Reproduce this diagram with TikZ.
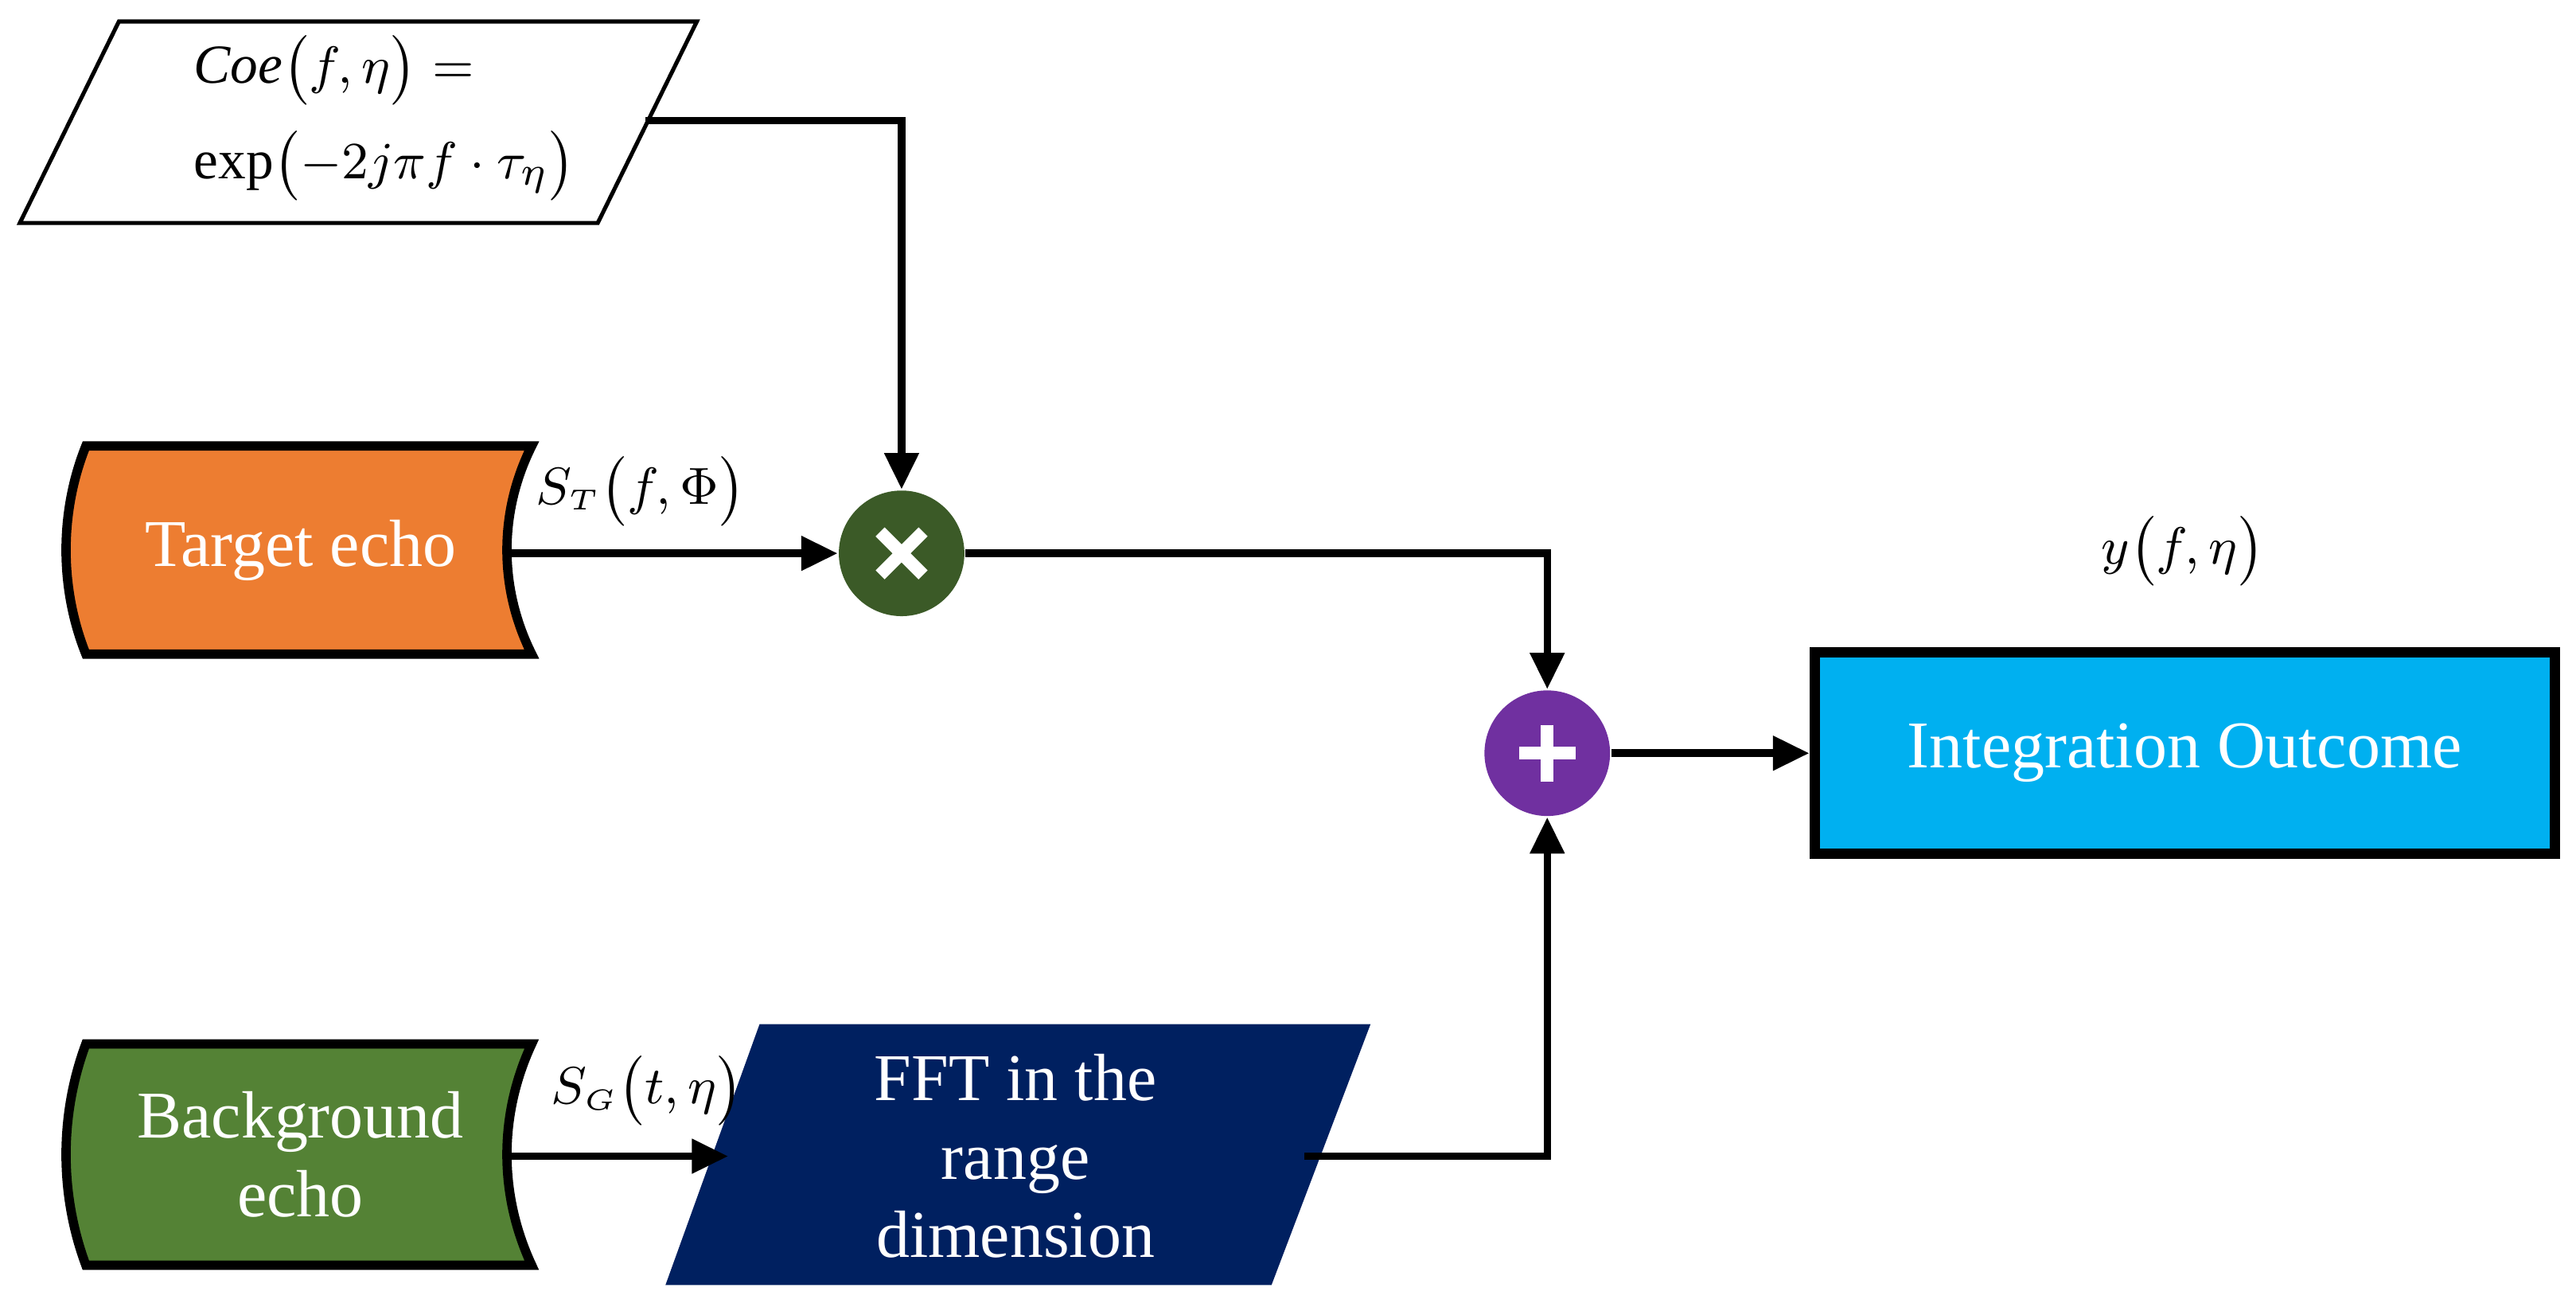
\documentclass[tikz,border=0pt]{standalone}
\usepackage{fontspec}
\setmainfont{Liberation Serif}
\usetikzlibrary{arrows.meta}
\definecolor{corange}{HTML}{ED7D31}
\definecolor{cgreen}{HTML}{548235}
\definecolor{cdkgreen}{HTML}{3B5A27}
\definecolor{cpurple}{HTML}{7030A0}
\definecolor{cnavy}{HTML}{002060}
\definecolor{ccyan}{HTML}{00B0F0}
\begin{document}
\begin{tikzpicture}[x=0.01cm,y=-0.01cm,
  conn/.style={line width=1.3pt,-{Triangle[length=0.22cm,width=0.2cm]}},
  drum/.style={line width=1.6pt,draw=black},
  lbl/.style={text=white,font=\fontsize{11.5}{13.5}\selectfont,align=center},
  math/.style={font=\fontsize{9.5}{11}\selectfont},
  sym/.style={white,line width=2.2pt},
  op/.style={circle,minimum size=0.76cm,inner sep=0pt}]
\useasboundingbox (0,0) rectangle (1560,796);
% Coe parallelogram
\draw[line width=0.7pt,fill=white] (72,13) -- (422,13) -- (362,135) -- (12,135) -- cycle;
\node[math,anchor=west] (coe1) at (105,42) {$\mathit{Coe}\bigl(f,\eta\bigr)=$};
\node[math,anchor=west] (coe2) at (105,100) {$\exp\bigl(-2j\pi f\cdot\tau_\eta\bigr)$};
\coordinate (coeout) at (391,73);
% Target echo
\draw[drum,fill=corange] (322,270) -- (52,270) .. controls (36,310) and (36,356) .. (52,396) -- (322,396) .. controls (302,356) and (302,310) .. cycle;
\node[lbl] (target) at (182,333) {Target echo};
\coordinate (targetout) at (308,335);
% Background echo
\draw[drum,fill=cgreen] (322,632) -- (52,632) .. controls (36,675) and (36,723) .. (52,766) -- (322,766) .. controls (302,723) and (302,675) .. cycle;
\node[lbl] (bg) at (182,699) {Background\\echo};
\coordinate (bgout) at (308,700);
% FFT parallelogram
\fill[cnavy] (460,620) -- (830,620) -- (770,778) -- (403,778) -- cycle;
\node[lbl] (fft) at (615,700) {FFT in the\\range\\dimension};
\coordinate (fftin) at (441,700);
\coordinate (fftout) at (790,700);
% operators
\node[op,fill=cdkgreen] (mul) at (546,335) {};
\draw[sym] (mul.center) ++(-13,-13) -- ++(26,26) (mul.center) ++(13,-13) -- ++(-26,26);
\node[op,fill=cpurple] (add) at (937,456) {};
\draw[sym] (add.center) ++(-17,0) -- ++(34,0) (add.center) ++(0,-17) -- ++(0,34);
% output box
\node[draw=black,line width=1.8pt,fill=ccyan,minimum width=4.48cm,minimum height=1.22cm,lbl] (out) at (1323,456) {Integration Outcome};
% connectors
\draw[conn] (coeout) -| (mul.north);
\draw[conn] (targetout) -- (mul.west);
\draw[conn] (mul.east) -| (add.north);
\draw[conn] (add.east) -- (out.west);
\draw[conn] (bgout) -- (fftin);
\draw[conn] (fftout) -| (add.south);
% labels
\node[math] (st) at (388,297) {$S_{\scriptscriptstyle T}\bigl(f,\Phi\bigr)$};
\node[math] (sg) at (392,660) {$S_{\scriptscriptstyle G}\bigl(t,\eta\bigr)$};
\node[math] (y) at (1322,333) {$y\bigl(f,\eta\bigr)$};
\end{tikzpicture}
\end{document}
